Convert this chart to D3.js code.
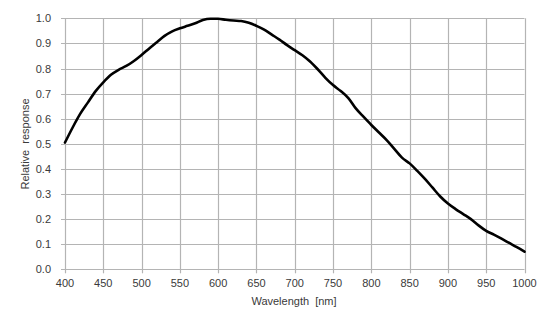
<!DOCTYPE html>
<html><head><meta charset="utf-8">
<script src="https://cdn.jsdelivr.net/npm/d3@7"></script>
<style>body{margin:0;background:#fff;}svg{display:block;}</style>
</head><body>
<script>
const wavelengths = [400,410,420,430,440,450,460,470,480,490,500,510,520,530,540,550,560,570,580,590,600,610,620,630,640,650,660,670,680,690,700,710,720,730,740,750,760,770,780,790,800,810,820,830,840,850,860,870,880,890,900,910,920,930,940,950,960,970,980,990,1000];
const response = [0.505,0.565,0.62,0.665,0.71,0.745,0.775,0.795,0.81,0.83,0.854,0.88,0.905,0.93,0.948,0.96,0.97,0.98,0.993,0.998,0.998,0.994,0.991,0.989,0.982,0.97,0.955,0.935,0.915,0.893,0.873,0.853,0.828,0.797,0.763,0.734,0.71,0.682,0.64,0.607,0.575,0.545,0.515,0.48,0.445,0.422,0.392,0.36,0.325,0.29,0.262,0.24,0.22,0.2,0.175,0.153,0.138,0.122,0.105,0.088,0.07];
const xTicks = [400,450,500,550,600,650,700,750,800,850,900,950,1000];
const yTicks = [0,0.1,0.2,0.3,0.4,0.5,0.6,0.7,0.8,0.9,1.0];
const xTitle = "Wavelength  [nm]";
const yTitle = "Relative  response";

const W = 554, H = 331;
const svg = d3.select("body").append("svg").attr("width", W).attr("height", H);
const x = d3.scaleLinear().domain([400,1000]).range([65, 524.5]);
const y = d3.scaleLinear().domain([0,1]).range([269.3, 18.3]);
const font = "Liberation Sans, Arial, sans-serif";
const grid = "#b4b4b4";
const txt = "#3a3a3a";

const g = svg.append("g");
// vertical grid
g.selectAll("line.vx").data(xTicks).enter().append("line")
  .attr("x1", d => Math.round(x(d)) + 0.5).attr("x2", d => Math.round(x(d)) + 0.5)
  .attr("y1", y(1)).attr("y2", y(0) + 4)
  .attr("stroke", grid).attr("stroke-width", 1.2);
// horizontal grid
g.selectAll("line.hy").data(yTicks).enter().append("line")
  .attr("y1", d => Math.round(y(d)) + 0.5).attr("y2", d => Math.round(y(d)) + 0.5)
  .attr("x1", x(400) - 4).attr("x2", x(1000))
  .attr("stroke", grid).attr("stroke-width", 1.2);

// y tick labels
g.selectAll("text.yl").data(yTicks).enter().append("text")
  .attr("x", 51).attr("y", d => y(d) + 4)
  .attr("text-anchor", "end").attr("font-family", font).attr("font-size", 11)
  .attr("fill", txt).text(d => d.toFixed(1));
// x tick labels
g.selectAll("text.xl").data(xTicks).enter().append("text")
  .attr("x", d => x(d)).attr("y", 287)
  .attr("text-anchor", "middle").attr("font-family", font).attr("font-size", 11)
  .attr("fill", txt).text(d => d);

svg.append("text").attr("x", 294).attr("y", 305).attr("text-anchor", "middle")
  .attr("font-family", font).attr("font-size", 11).attr("fill", txt)
  .attr("xml:space", "preserve").style("white-space", "pre").text(xTitle);
svg.append("text").attr("transform", "translate(29,144) rotate(-90)").attr("text-anchor", "middle")
  .attr("font-family", font).attr("font-size", 11).attr("fill", txt)
  .style("white-space", "pre").text(yTitle);

const data = wavelengths.map((w, i) => [w, response[i]]);
const line = d3.line().x(d => x(d[0])).y(d => y(d[1])).curve(d3.curveMonotoneX);
svg.append("path").datum(data).attr("d", line)
  .attr("fill", "none").attr("stroke", "#000").attr("stroke-width", 2.6)
  .attr("stroke-linejoin", "round").attr("stroke-linecap", "round");
</script>
</body></html>
